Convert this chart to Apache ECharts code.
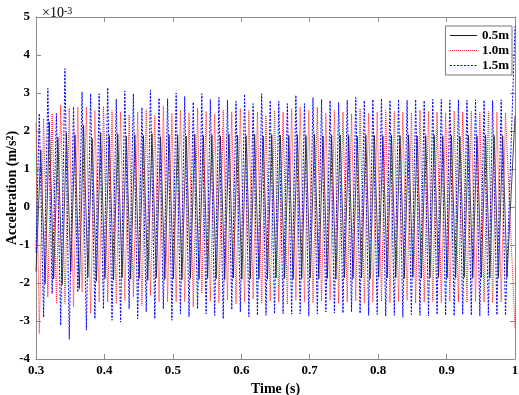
<!DOCTYPE html>
<html>
<head>
<meta charset="utf-8">
<script src="https://cdn.jsdelivr.net/npm/echarts@6/dist/echarts.min.js"></script>
<style>
  html, body { margin: 0; padding: 0; background: #fff; }
  #chart { width: 519px; height: 395px; }
</style>
</head>
<body>
<div id="chart"></div>
<script>
// turning-point times (s) for the 1.0m / 1.5m traces
const timesBR = [
  0.3048, 0.3111, 0.3173, 0.3236, 0.3298, 0.3361, 0.3423, 0.3486, 0.3548, 0.3611, 0.3673, 0.3736, 0.3798, 0.3861, 0.3923, 0.3986,
  0.4048, 0.4111, 0.4173, 0.4236, 0.4298, 0.4361, 0.4423, 0.4486, 0.4548, 0.4611, 0.4673, 0.4736, 0.4798, 0.4861, 0.4923, 0.4986,
  0.5048, 0.5111, 0.5173, 0.5236, 0.5298, 0.5361, 0.5423, 0.5486, 0.5548, 0.5611, 0.5673, 0.5736, 0.5798, 0.5861, 0.5923, 0.5986,
  0.6048, 0.6111, 0.6173, 0.6236, 0.6298, 0.6361, 0.6423, 0.6486, 0.6548, 0.6611, 0.6673, 0.6736, 0.6798, 0.6861, 0.6923, 0.6986,
  0.7048, 0.7111, 0.7173, 0.7236, 0.7298, 0.7361, 0.7423, 0.7486, 0.7548, 0.7611, 0.7673, 0.7736, 0.7798, 0.7861, 0.7923, 0.7986,
  0.8048, 0.8111, 0.8173, 0.8236, 0.8298, 0.8361, 0.8423, 0.8486, 0.8548, 0.8611, 0.8673, 0.8736, 0.8798, 0.8861, 0.8923, 0.8986,
  0.9048, 0.9111, 0.9173, 0.9236, 0.9298, 0.9361, 0.9423, 0.9486, 0.9548, 0.9611, 0.9673, 0.9736, 0.9798, 0.9861
];
// turning-point times (s) for the 0.5m trace
const timesBlack = [
  0.3070, 0.3133, 0.3195, 0.3258, 0.3320, 0.3383, 0.3445, 0.3508, 0.3570, 0.3633, 0.3695, 0.3758, 0.3820, 0.3883, 0.3945, 0.4008,
  0.4070, 0.4133, 0.4195, 0.4258, 0.4320, 0.4383, 0.4445, 0.4508, 0.4570, 0.4633, 0.4695, 0.4758, 0.4820, 0.4883, 0.4945, 0.5008,
  0.5070, 0.5133, 0.5195, 0.5258, 0.5320, 0.5383, 0.5445, 0.5508, 0.5570, 0.5633, 0.5695, 0.5758, 0.5820, 0.5883, 0.5945, 0.6008,
  0.6070, 0.6133, 0.6195, 0.6258, 0.6320, 0.6383, 0.6445, 0.6508, 0.6570, 0.6633, 0.6695, 0.6758, 0.6820, 0.6883, 0.6945, 0.7008,
  0.7070, 0.7133, 0.7195, 0.7258, 0.7320, 0.7383, 0.7445, 0.7508, 0.7570, 0.7633, 0.7695, 0.7758, 0.7820, 0.7883, 0.7945, 0.8008,
  0.8070, 0.8133, 0.8195, 0.8258, 0.8320, 0.8383, 0.8445, 0.8508, 0.8570, 0.8633, 0.8695, 0.8758, 0.8820, 0.8883, 0.8945, 0.9008,
  0.9070, 0.9133, 0.9195, 0.9258, 0.9320, 0.9383, 0.9445, 0.9508, 0.9570, 0.9633, 0.9695, 0.9758, 0.9820, 0.9883
];

// values in units of 1e-3 m/s^2
const blackPeaks = [
  1.50, 2.24, 1.84, 1.95, 1.90, 2.15, 1.80, 1.95, 1.88, 1.92,
  1.86, 1.90, 1.88, 1.93, 1.85, 1.90, 1.89, 1.87, 1.91, 1.88,
  1.90, 1.87, 1.92, 1.89, 1.88, 1.91, 1.87, 1.90, 1.89, 1.88,
  1.90, 1.88, 1.91, 1.87, 1.89, 1.90, 1.88, 1.86, 1.89, 1.88,
  1.87, 1.89, 1.88, 1.90, 1.87, 1.88, 1.89, 1.87, 1.88, 1.86,
  1.88, 1.87, 1.89, 1.88, 1.87
];
const blackTroughs = [
  -2.02, -1.89, -2.05, -1.70, -2.15, -1.85, -1.95, -1.88, -1.92, -1.86,
  -1.90, -1.88, -1.93, -1.87, -1.90, -1.89, -1.91, -1.87, -1.90, -1.88,
  -1.89, -1.91, -1.87, -1.90, -1.88, -1.89, -1.90, -1.87, -1.88, -1.90,
  -1.88, -1.87, -1.89, -1.88, -1.90, -1.86, -1.88, -1.87, -1.89, -1.85,
  -1.87, -1.86, -1.88, -1.85, -1.87, -1.86, -1.85, -1.87, -1.86, -1.85,
  -1.86, -1.85, -1.87, -1.86, -1.85
];
const redPeaks = [
  2.33, 2.46, 2.68, 2.60, 2.63, 2.63, 2.54, 2.65, 2.54, 2.50,
  2.43, 2.50, 2.56, 2.41, 2.66, 2.46, 2.55, 2.48, 2.60, 2.52,
  2.45, 2.56, 2.50, 2.59, 2.54, 2.50, 2.41, 2.54, 2.50, 2.59,
  2.63, 2.54, 2.63, 2.47, 2.54, 2.50, 2.45, 2.59, 2.47, 2.50,
  2.54, 2.52, 2.50, 2.48, 2.55, 2.52, 2.50, 2.48, 2.53, 2.50,
  2.52, 2.49, 2.51, 2.50, 2.48
];
const redTroughs = [
  -3.33, -2.37, -2.54, -2.54, -2.63, -2.24, -2.80, -2.50, -2.50, -2.54,
  -2.46, -2.37, -2.59, -2.32, -2.50, -2.50, -2.50, -2.50, -2.63, -2.28,
  -2.48, -2.52, -2.45, -2.55, -2.50, -2.42, -2.54, -2.47, -2.50, -2.56,
  -2.46, -2.50, -2.52, -2.48, -2.45, -2.53, -2.50, -2.47, -2.52, -2.50,
  -2.48, -2.52, -2.50, -2.46, -2.53, -2.50, -2.49, -2.52, -2.48, -2.50,
  -2.51, -2.49, -2.50, -2.52, -2.50
];
const bluePeaks = [
  2.46, 3.12, 2.46, 3.64, 2.63, 3.03, 2.98, 2.98, 3.14, 2.84,
  3.05, 2.98, 2.62, 3.07, 2.87, 2.85, 3.00, 2.91, 2.76, 2.98,
  2.83, 2.88, 2.81, 2.78, 2.97, 2.72, 2.98, 2.80, 2.78, 2.72,
  2.94, 2.72, 2.88, 2.83, 2.80, 2.75, 2.81, 2.88, 2.80, 2.83,
  2.85, 2.81, 2.83, 2.81, 2.83, 2.80, 2.83, 2.83, 2.81, 2.82,
  2.81, 2.82, 2.81, 2.80, 2.82
];
const blueTroughs = [
  -2.90, -2.28, -3.11, -3.48, -2.24, -3.24, -2.94, -2.68, -2.98, -3.03,
  -2.68, -2.94, -2.76, -2.94, -2.68, -2.98, -2.81, -2.89, -2.68, -2.81,
  -2.85, -2.94, -2.70, -2.76, -2.89, -2.85, -2.85, -2.81, -2.81, -2.82,
  -2.81, -2.87, -2.81, -2.76, -2.79, -2.79, -2.76, -2.80, -2.85, -2.83,
  -2.87, -2.85, -2.90, -2.83, -2.85, -2.87, -2.83, -2.85, -2.86, -2.83,
  -2.85, -2.87, -2.85, -2.84, -2.85
];
// values at the window edges t = 0.3 s and t = 1 s
const startValues = { black: -1.70, red: 2.20, blue: -1.20 };
const endValues = { black: 2.40, red: -3.20, blue: 4.75 };

const xTicks = [0.3, 0.4, 0.5, 0.6, 0.7, 0.8, 0.9, 1];
const yTicks = [-4, -3, -2, -1, 0, 1, 2, 3, 4, 5];

const FONT = '"Liberation Serif", "Times New Roman", serif';
const AXIS_GRAY = '#8a8a8a';

// interleave peak/trough lists onto their turning-point times
function buildTrace(times, firstList, secondList, startV, endV) {
  const pts = [[xTicks[0], startV]];
  times.forEach((t, k) => {
    const v = k % 2 === 0 ? firstList[k / 2] : secondList[(k - 1) / 2];
    pts.push([t, v]);
  });
  pts.push([xTicks[xTicks.length - 1], endV]);
  return pts;
}

const blackData = buildTrace(timesBlack, blackPeaks, blackTroughs, startValues.black, endValues.black);
const redData = buildTrace(timesBR, redTroughs, redPeaks, startValues.red, endValues.red);
const blueData = buildTrace(timesBR, bluePeaks, blueTroughs, startValues.blue, endValues.blue);

const chart = echarts.init(document.getElementById('chart'), null, { renderer: 'canvas' });

const baseX = {
  type: 'value',
  min: xTicks[0],
  max: xTicks[xTicks.length - 1],
  interval: 0.1,
  axisLine: { onZero: false, lineStyle: { color: AXIS_GRAY, width: 1 } },
  axisTick: { inside: true, length: 5, lineStyle: { color: AXIS_GRAY } },
  splitLine: { show: false }
};
const baseY = {
  type: 'value',
  min: yTicks[0],
  max: yTicks[yTicks.length - 1],
  interval: 1,
  axisLine: { onZero: false, lineStyle: { color: AXIS_GRAY, width: 1 } },
  axisTick: { inside: true, length: 5, lineStyle: { color: AXIS_GRAY } },
  splitLine: { show: false }
};

const option = {
  animation: false,
  backgroundColor: '#ffffff',
  title: {
    text: '×10{sup|-3}',
    left: 37,
    top: 1,
    textStyle: {
      fontFamily: FONT,
      fontSize: 14,
      fontWeight: 'normal',
      color: '#000',
      rich: {
        sup: { fontFamily: FONT, fontSize: 10, verticalAlign: 'top', color: '#000' }
      }
    }
  },
  grid: { left: 36, right: 4, top: 17, bottom: 36, containLabel: false, outerBoundsMode: 'none' },
  legend: {
    orient: 'vertical',
    right: 7,
    top: 26,
    itemWidth: 27,
    itemHeight: 10,
    itemGap: 2,
    padding: [3, 3, 3, 4],
    borderColor: '#777',
    borderWidth: 1,
    backgroundColor: '#fff',
    itemStyle: { opacity: 0 },
    lineStyle: { width: 1, color: 'inherit', type: 'inherit' },
    textStyle: { fontFamily: FONT, fontWeight: 'bold', fontSize: 13, color: '#000' },
    data: ['0.5m', '1.0m', '1.5m']
  },
  xAxis: [
    Object.assign({}, baseX, {
      position: 'bottom',
      name: 'Time (s)',
      nameLocation: 'middle',
      nameGap: 22,
      nameTextStyle: { fontFamily: FONT, fontWeight: 'bold', fontSize: 14, color: '#000' },
      axisLabel: {
        fontFamily: FONT, fontWeight: 'bold', fontSize: 13, color: '#000', margin: 5,
        formatter: v => String(parseFloat(v.toFixed(1)))
      }
    }),
    Object.assign({}, baseX, { position: 'top', axisLabel: { show: false } })
  ],
  yAxis: [
    Object.assign({}, baseY, {
      position: 'left',
      name: 'Acceleration (m/s{sup|2})',
      nameLocation: 'middle',
      nameGap: 17,
      nameMoveOverlap: false,
      nameTextStyle: {
        fontFamily: FONT, fontWeight: 'bold', fontSize: 14, color: '#000',
        rich: { sup: { fontFamily: FONT, fontWeight: 'bold', fontSize: 10, verticalAlign: 'top', color: '#000' } }
      },
      axisLabel: { fontFamily: FONT, fontWeight: 'bold', fontSize: 13, color: '#000', margin: 6 }
    }),
    Object.assign({}, baseY, { position: 'right', axisLabel: { show: false } })
  ],
  series: [
    {
      name: '0.5m', type: 'line', data: blackData, symbol: 'none',
      lineStyle: { color: '#1a1a1a', width: 0.8, type: 'solid' },
      itemStyle: { color: '#1a1a1a' }
    },
    {
      name: '1.0m', type: 'line', data: redData, symbol: 'none',
      lineStyle: { color: '#ff2020', width: 1, type: [1, 1] },
      itemStyle: { color: '#ff2020' }
    },
    {
      name: '1.5m', type: 'line', data: blueData, symbol: 'none',
      lineStyle: { color: '#0000ff', width: 1, type: [2, 1.5] },
      itemStyle: { color: '#0000ff' }
    }
  ]
};

chart.setOption(option);
</script>
</body>
</html>
